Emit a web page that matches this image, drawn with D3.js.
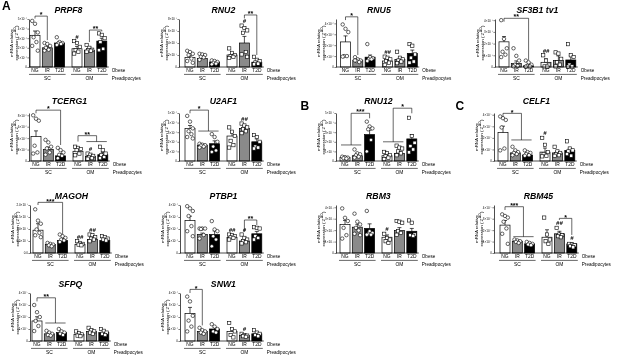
<!DOCTYPE html>
<html><head><meta charset="utf-8">
<script src="https://cdn.jsdelivr.net/npm/d3@7"></script>
<style>body{margin:0;background:#fff} svg{font-family:"Liberation Sans",Arial,sans-serif;-webkit-font-smoothing:antialiased;will-change:transform} text{fill:#000}</style>
</head><body><svg id="c" width="617" height="363"></svg>
<script>
// ---------- DATA ----------
const panelNames = ["PRPF8","RNU2","RNU5","SF3B1 tv1","TCERG1","U2AF1","RNU12","CELF1","MAGOH","PTBP1","RBM3","RBM45","SFPQ","SNW1"];
const groupLabels = ["NG","IR","T2D","NG","IR","T2D"];
const depotLabels = ["SC","OM"];
const yMax = [5,8,4.4,4.1,8.4,5,5,4.15,2,4,4.2,4.2,4,4];
const tickValues = [[0,1,2,3,4,5],[0,2,4,6,8],[0,1,2,3,4],[0,1,2,3,4],[0,2,4,6,8],[0,1,2,3,4,5],[0,1,2,3,4,5],[0,1,2,3,4],[0,0.5,1,1.5,2],[0,1,2,3,4],[0,1,2,3,4],[0,1,2,3,4],[0,1,2,3,4],[0,1,2,3,4]];
const tickExp = [-4,-7,-6,-7,-6,-4,-7,-5,-7,-4,-3,-5,-5,-4];
const means = [
 [3.3,2.0,2.5,1.9,1.75,2.7],
 [1.57,1.4,0.84,2.0,4.0,0.8],
 [2.3,0.63,0.9,0.55,0.7,1.25],
 [2.15,0.3,0.1,0.4,0.55,0.6],
 [4.27,2.0,0.9,1.7,0.83,1.1],
 [3.4,1.65,1.8,2.6,3.4,2.0],
 [0.35,0.55,2.75,0.55,0.8,2.3],
 [2.46,0.7,0.52,0.77,0.7,0.92],
 [0.95,0.35,0.52,0.35,0.56,0.52],
 [2.7,1.54,1.54,1.3,1.0,1.6],
 [2.5,2.26,2.15,1.38,1.97,1.9],
 [2.44,1.03,0.8,1.38,1.68,0.8],
 [1.67,0.6,0.7,0.55,0.8,0.7],
 [2.3,0.8,1.0,0.8,0.45,0.6]
];
const sems = [
 [0.45,0.15,0.12,0.25,0.12,0.3],
 [0.3,0.2,0.1,0.25,1.1,0.2],
 [0.55,0.1,0.2,0.12,0.12,0.3],
 [0.45,0.22,0.08,0.3,0.4,0.4],
 [1.0,0.45,0.4,0.55,0.2,0.4],
 [0.3,0.08,0.3,0.4,0.25,0.3],
 [0.05,0.15,0.45,0.1,0.15,0.45],
 [0.55,0.1,0.08,0.35,0.15,0.15],
 [0.27,0.03,0.08,0.05,0.1,0.07],
 [0.37,0.12,0.3,0.12,0.12,0.2],
 [0.35,0.25,0.4,0.2,0.25,0.25],
 [0.4,0.08,0.07,0.65,0.22,0.1],
 [0.35,0.08,0.1,0.1,0.12,0.1],
 [0.5,0.1,0.15,0.25,0.08,0.12]
];
const points = [
 [[4.8,4.5,3.6,3.1,2.6,2.2,1.7],[2.5,2.4,2.2,2.0,1.8,1.7],[3.1,2.6,2.5,2.45,2.4,2.3],[2.7,2.5,2.1,1.75,1.6,1.4],[2.3,2.0,1.8,1.75,1.7,1.6],[3.5,3.35,3.0,2.6,1.9,1.75]],
 [[2.7,2.5,2.2,2.0,1.4,1.0,0.7],[2.2,2.1,2.0,1.7,1.6,1.2],[1.1,1.0,0.84,0.7,0.56,0.45],[3.1,2.35,2.0,1.8,1.7,1.5],[6.9,6.5,6.1,5.7,2.5,2.1,1.7],[1.7,1.2,1.0,0.75,0.56,0.45]],
 [[3.9,3.5,3.2,1.0,1.0,0.95],[0.9,0.7,0.6,0.55,0.45,0.6],[2.1,0.9,0.8,0.7,0.7,0.55],[0.95,0.85,0.7,0.55,0.4,0.2],[1.4,0.85,0.7,0.6,0.5,0.35],[2.1,1.95,1.15,0.85,0.5,0.4]],
 [[4.0,2.4,1.6,1.3,1.05,0.85],[1.6,0.95,0.55,0.2,0.1,0.05],[0.55,0.4,0.2,0.1,0.05,0.03],[1.0,0.55,0.2,0.05,0.03],[1.25,1.15,0.7,0.4,0.2,0.05],[1.95,1.0,0.85,0.2,0.05,0.03]],
 [[8.0,7.4,7.05,2.67,1.5,1.3],[3.7,3.26,2.5,2.2,1.5,1.1],[2.3,1.9,1.5,1.1,0.9,0.5],[2.5,2.3,2.1,1.9,1.3,1.0],[1.3,1.1,0.9,0.7,0.5,0.4],[2.5,1.9,1.3,1.0,0.7,0.5]],
 [[4.7,4.1,3.4,3.1,2.8,2.5,2.35],[1.8,1.7,1.65,1.6,1.5,1.4],[2.8,2.5,2.0,1.5,1.1,0.95],[3.5,3.05,2.6,2.1,1.65,1.4],[3.9,3.7,3.5,3.3,3.1,2.9],[2.7,2.5,2.0,1.5,1.4,1.3]],
 [[0.45,0.4,0.35,0.3,0.25],[1.2,0.8,0.7,0.6,0.45,0.35],[4.1,3.6,3.4,3.3,2.2,1.0],[0.95,0.8,0.6,0.5,0.35,0.2],[1.6,1.4,1.3,1.0,0.8,0.6],[4.5,2.6,1.9,1.55,1.2,0.9]],
 [[3.85,3.7,3.55,2.9,1.08,0.92],[1.23,0.92,0.77,0.7,0.6,0.5],[0.92,0.77,0.7,0.6,0.5,0.45],[2.0,1.4,0.77,0.6,0.45,0.4],[1.23,0.83,0.7,0.6,0.5,0.45],[1.7,1.08,0.92,0.83,0.46,0.6]],
 [[1.82,1.35,1.22,0.98,0.84,0.74,0.66],[0.42,0.38,0.35,0.32,0.28],[0.77,0.7,0.63,0.56,0.52,0.46],[0.49,0.42,0.38,0.35,0.32],[0.77,0.74,0.66,0.6,0.56,0.49],[0.7,0.66,0.6,0.56,0.52]],
 [[3.9,3.72,3.5,3.08,2.24,1.82,1.4],[2.04,2.04,2.04,2.0,1.5,1.2],[2.66,1.96,1.82,1.4,1.12,0.56],[1.54,1.5,1.4,1.3,1.26,1.12],[1.54,1.26,1.12,1.0,0.9,0.8],[2.15,2.1,2.04,1.4,1.26,1.12]],
 [[3.9,3.08,2.8,2.2,1.56,1.26],[3.44,2.74,2.5,2.2,1.97,1.68,1.56],[3.68,1.9,1.76,1.68,1.6,1.6],[1.68,1.32,1.18,1.03,0.88],[2.8,2.74,2.65,1.9,1.76,1.6],[2.85,2.65,1.62,1.56,1.5]],
 [[3.38,3.24,3.1,2.74,2.15,1.68,0.8],[1.18,1.1,1.03,0.97,0.88],[0.97,0.88,0.8,0.74,0.68],[3.1,1.62,1.18,1.03,0.8],[2.2,1.62,1.56,1.47,1.38],[0.8,0.74,0.68,0.6,0.5]],
 [[3.0,2.4,2.0,1.67,1.25,0.83],[0.85,0.7,0.6,0.5,0.45],[1.0,0.8,0.7,0.6,0.5],[0.8,0.65,0.55,0.45,0.4],[1.1,0.9,0.8,0.7,0.6],[1.0,0.85,0.7,0.6,0.5]],
 [[3.7,3.3,2.1,1.7,1.2,0.8],[1.1,0.9,0.8,0.7,0.6],[1.4,1.2,1.0,0.8,0.7],[1.5,1.0,0.8,0.5,0.3],[0.6,0.5,0.45,0.4,0.35],[0.9,0.7,0.6,0.5,0.4]]
];
// "#" marks vs SC of same group: [panel, group, label]
const hashes = [[0,3,"#"],[1,4,"#"],[2,3,"##"],[3,3,"##"],[4,4,"#"],[5,4,"##"],[7,3,"#"],[8,3,"##"],[8,4,"##"],[9,3,"##"],[9,4,"#"],[10,3,"#"],[11,4,"##"],[11,5,"#"],[13,4,"#"]];
// significance brackets: [panel, left groups, right groups, top value, left drop value, right drop value, label]
const brackets = [
 [0,[0],[1],5.3,5.05,2.8,"*"],
 [0,[4],[5],3.85,2.6,3.7,"**"],
 [1,[4],[5],8.67,8.1,2.0,"**"],
 [2,[0],[1],4.6,4.3,1.1,"*"],
 [3,[0],[2],4.16,3.87,0.6,"**"],
 [4,[0],[2],8.9,8.35,2.8,"*"],
 [4,[3],[4,5],4.43,3.4,3.4,"**"],
 [5,[0],[1,2],5.3,4.97,3.12,"*"],
 [6,[0,1],[2],4.97,1.67,4.45,"***"],
 [6,[3,4],[5],5.5,2.0,4.97,"*"],
 [7,[0],[1,2],4.12,3.83,1.82,"*"],
 [8,[0],[2],2.11,2.0,0.78,"***"],
 [9,[4],[5],2.75,1.78,2.33,"**"],
 [11,[0],[1,2],4.05,3.76,1.43,"***"],
 [11,[4],[5],3.03,2.89,1.58,"*"],
 [12,[0],[1,2],3.6,3.3,1.5,"**"],
 [13,[0],[1],4.3,4.0,1.3,"*"]
];
const panelLetters = [["A",0],["B",6],["C",7]];

// ---------- LAYOUT ----------
const rowBase=[67,161,253,341], rowTitle=[13,104,199,287];
const axisX=[29,179,336,495, 29,179,336,494, 30,180,336,494, 30,180];
const ngX=[35,190,345.5,504, 36,190,345,503, 38,190,345,505, 37,190];
const slot=[0,12.3,24.6,42,54.4,66.8];
const fills=["#fff","#8a8a8a","#000"];
const jit=[-2.8,0,2.8,-1.4,1.4,-2.8,2.8];
const sup = n => String(n).split("").map(c=>({"-":"⁻","0":"⁰","1":"¹","2":"²","3":"³","4":"⁴","5":"⁵","6":"⁶","7":"⁷","8":"⁸","9":"⁹"}[c])).join("");

const svg=d3.select("#c");
const scales=[];
panelNames.forEach((name,p)=>{
  const row=Math.floor(p/4);
  const base=rowBase[row], top=base-48;
  const y=d3.scaleLinear().domain([0,yMax[p]]).range([base,top]);
  const x=d3.scaleOrdinal().domain(d3.range(6)).range(slot.map(s=>ngX[p]+s));
  scales.push({x,y,base,top});
  const g=svg.append("g");
  // bars
  g.selectAll("rect.bar").data(means[p]).join("rect")
    .attr("x",(d,i)=>x(i)-5).attr("width",10)
    .attr("y",d=>y(d)).attr("height",d=>base-y(d))
    .attr("fill",(d,i)=>fills[i%3]).attr("stroke","#000").attr("stroke-width",0.7);
  // error bars
  means[p].forEach((m,i)=>{
    g.append("line").attr("x1",x(i)).attr("x2",x(i)).attr("y1",y(m)).attr("y2",y(m+sems[p][i])).attr("stroke","#000").attr("stroke-width",0.7);
    g.append("line").attr("x1",x(i)-2).attr("x2",x(i)+2).attr("y1",y(m+sems[p][i])).attr("y2",y(m+sems[p][i])).attr("stroke","#000").attr("stroke-width",0.7);
  });
  // points
  points[p].forEach((arr,i)=>{
    arr.forEach((v,k)=>{
      const cx=x(i)+jit[k%jit.length], cy=y(v);
      if(i<3) g.append("circle").attr("cx",cx).attr("cy",cy).attr("r",1.75).attr("fill","#fff").attr("stroke","#000").attr("stroke-width",0.6);
      else g.append("rect").attr("x",cx-1.65).attr("y",cy-1.65).attr("width",3.3).attr("height",3.3).attr("fill","#fff").attr("stroke","#000").attr("stroke-width",0.6);
    });
  });
  // y axis
  const ax=g.append("g").attr("transform",`translate(${axisX[p]},0)`)
    .call(d3.axisLeft(y).tickValues(tickValues[p]).tickSize(1.6).tickSizeOuter(0)
      .tickFormat(v=> v===0 ? (p===8?"0.0":"0") : (p===8? v.toFixed(1):v)+"×10"+sup(tickExp[p])));
  ax.select(".domain").attr("stroke-width",0.7);
  ax.selectAll(".tick line").attr("stroke-width",0.5);
  ax.selectAll(".tick text").attr("font-size",3).attr("x",-2.2).attr("fill","#000").attr("font-family","Liberation Sans, Arial, sans-serif");
  // baseline
  g.append("line").attr("x1",axisX[p]).attr("x2",x(5)+7).attr("y1",base).attr("y2",base).attr("stroke","#000").attr("stroke-width",0.7);
  // y label
  const yl=g.append("g").attr("transform",`translate(${axisX[p]-16.5},${(base+top)/2}) rotate(-90)`);
  yl.append("text").attr("text-anchor","middle").attr("font-size",4.4).text("mRNA relative");
  const t2=yl.append("text").attr("text-anchor","middle").attr("font-size",4.4).attr("y",5.2);
  t2.append("tspan").text("expression ( 2");
  t2.append("tspan").attr("font-size",3).attr("dy",-1.6).text("-ΔCt");
  t2.append("tspan").attr("dy",1.6).text(")");
  // title
  g.append("text").attr("x",(x(0)+x(5))/2).attr("y",rowTitle[row]).attr("text-anchor","middle")
    .attr("font-size",8.7).attr("font-weight","bold").attr("font-style","italic").text(name);
  // group labels
  groupLabels.forEach((lab,i)=>{
    g.append("text").attr("x",x(i)).attr("y",base+5.3).attr("text-anchor","middle").attr("font-size",4.9).text(lab);
  });
  depotLabels.forEach((lab,j)=>{
    const a=x(3*j)-6, b=x(3*j+2)+6;
    g.append("line").attr("x1",a).attr("x2",b).attr("y1",base+7.4).attr("y2",base+7.4).attr("stroke","#000").attr("stroke-width",0.6);
    g.append("text").attr("x",(a+b)/2).attr("y",base+12.8).attr("text-anchor","middle").attr("font-size",4.9).text(lab);
  });
  g.append("text").attr("x",x(5)+10).attr("y",base+5.3).attr("font-size",4.6).text("Obese");
  g.append("text").attr("x",x(5)+10).attr("y",base+12.8).attr("font-size",4.6).text("Preadipocytes");
});

// hashes
hashes.forEach(([p,i,lab])=>{
  const {x,y}=scales[p];
  const topV=Math.max(means[p][i]+sems[p][i], d3.max(points[p][i]));
  svg.append("text").attr("x",x(i)).attr("y",y(topV)-2.5).attr("text-anchor","middle")
    .attr("font-size",6).attr("font-style","italic").attr("font-weight","bold").attr("fill","#000").text(lab);
});

// brackets
brackets.forEach(([p,L,R,topV,dl,dr,lab])=>{
  const {x,y}=scales[p];
  const g=svg.append("g").attr("stroke","#000").attr("stroke-width",0.6).attr("fill","none");
  const side=(grp,drop)=>{
    const xs=grp.map(i=>x(i));
    const cx=d3.mean(xs);
    g.append("line").attr("x1",cx).attr("x2",cx).attr("y1",y(topV)).attr("y2",y(drop));
    if(grp.length>1) g.append("line").attr("x1",d3.min(xs)-4).attr("x2",d3.max(xs)+4).attr("y1",y(drop)).attr("y2",y(drop));
    return cx;
  };
  const a=side(L,dl), b=side(R,dr);
  g.append("line").attr("x1",a).attr("x2",b).attr("y1",y(topV)).attr("y2",y(topV));
  svg.append("text").attr("x",(a+b)/2).attr("y",y(topV)+1.2).attr("text-anchor","middle")
    .attr("font-size",7).attr("font-weight","bold").attr("fill","#000").text(lab);
});

// panel letters
panelLetters.forEach(([L,p])=>{
  const row=Math.floor(p/4);
  svg.append("text").attr("x",L==="A"?2:(L==="B"?300.5:455.5)).attr("y",row===0?10:110)
    .attr("font-size",12).attr("font-weight","bold").text(L);
});
</script></body></html>
